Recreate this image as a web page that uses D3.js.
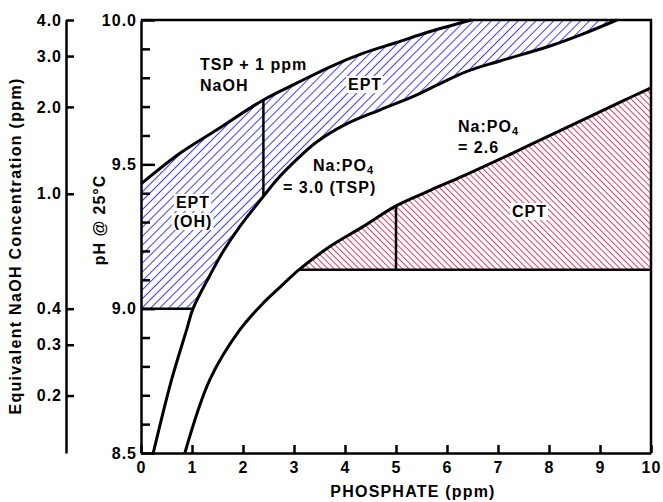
<!DOCTYPE html>
<html>
<head>
<meta charset="utf-8">
<script src="https://cdn.jsdelivr.net/npm/d3@7"></script>
<style>
  html, body { margin: 0; padding: 0; background: #fff; }
  svg { display: block; font-family: "Liberation Sans", Arial, Helvetica, sans-serif; font-weight: bold; }
</style>
</head>
<body>
<svg id="chart" width="663" height="502"></svg>
<script>
// Phosphate / pH control chart: curves of pH against phosphate concentration.

// Curve "TSP + 1 ppm NaOH"
const tspNaohX  = [0, 0.77, 1.48, 2.4, 3.05, 3.71, 4.36, 5.01, 5.67, 6.48];
const tspNaohPh = [9.432, 9.539, 9.619, 9.723, 9.781, 9.838, 9.885, 9.922, 9.960, 10.0];

// Curve Na:PO4 = 3.0 (TSP)
const tspX  = [0.24, 0.60, 0.90, 1.02, 1.35, 1.61, 1.94, 2.4, 2.66, 3.05, 3.45, 4.03, 4.69, 5.34, 5.73, 6.39, 7.04, 8.02, 8.67, 9.33];
const tspPh = [8.5, 8.754, 8.93, 9.0, 9.115, 9.198, 9.285, 9.389, 9.446, 9.516, 9.578, 9.640, 9.689, 9.735, 9.768, 9.822, 9.858, 9.910, 9.952, 10.0];

// Curve Na:PO4 = 2.6
const na26X  = [0.86, 1.35, 1.94, 2.4, 2.79, 3.1, 3.71, 4.36, 5.0, 5.67, 6.32, 7.3, 8.28, 9.45, 10.0];
const na26Ph = [8.5, 8.754, 8.927, 9.02, 9.085, 9.135, 9.216, 9.285, 9.356, 9.41, 9.46, 9.54, 9.622, 9.72, 9.765];

// Region limits
const eptFloorPh = 9.0;     // lower limit of the EPT (OH) zone
const cptFloorPh = 9.135;   // lower limit of the CPT zone
const eptSplitX = 2.4;      // divider inside the EPT zone
const cptSplitX = 5.0;      // divider inside the CPT zone

// Axis ticks
const phosphateTicks = [0, 1, 2, 3, 4, 5, 6, 7, 8, 9, 10];
const phTicks = [8.5, 9.0, 9.5, 10.0];
const phMinorTicks = [8.6, 8.7, 8.8, 8.9, 9.1, 9.2, 9.3, 9.4, 9.6, 9.7, 9.8, 9.9];
const naohTicks = [0.2, 0.3, 0.4, 1.0, 2.0, 3.0, 4.0];
const naohAtPh10 = 4.0;     // ppm NaOH equivalent to pH 10.0

const svg = d3.select("#chart");

const x = d3.scaleLinear().domain([0, 10]).range([141, 651]);
const y = d3.scaleLinear().domain([8.5, 10]).range([453, 20]);
const naoh = d3.scaleLog().domain([naohAtPh10 * Math.pow(10, -1.5), naohAtPh10]).range([453, 20]);

const zip = (xs, ys) => xs.map((v, i) => [v, ys[i]]);
const upperPts = zip(tspNaohX, tspNaohPh);
const tspPts = zip(tspX, tspPh);
const na26Pts = zip(na26X, na26Ph);

const line = d3.line()
  .x(d => x(d[0]))
  .y(d => y(d[1]))
  .curve(d3.curveCatmullRom.alpha(0.5));

// Hatch patterns
const defs = svg.append("defs");
function hatch(id, gap, angle, color) {
  const p = defs.append("pattern")
    .attr("id", id)
    .attr("patternUnits", "userSpaceOnUse")
    .attr("width", gap).attr("height", gap)
    .attr("patternTransform", `rotate(${angle})`);
  p.append("line")
    .attr("x1", gap / 2).attr("y1", -1)
    .attr("x2", gap / 2).attr("y2", gap + 1)
    .attr("stroke", color).attr("stroke-width", 1);
}
hatch("hatchBlue", 6.3, 45, "#3a3aff");
hatch("hatchRed", 4.4, -45, "#e03a5c");

// EPT zone: below TSP + 1 ppm NaOH, above TSP, above pH 9.0
const tspAbove = tspPts.filter(d => d[1] >= eptFloorPh);
const eptPath = `M${x(0)},${y(eptFloorPh)}` +
  line(upperPts).replace(/^M/, "L") +
  line(tspAbove.slice().reverse()).replace(/^M/, "L") + "Z";
svg.append("path").attr("d", eptPath).attr("fill", "url(#hatchBlue)");

// CPT zone: below Na:PO4 = 2.6, above the CPT floor
const cptPts = na26Pts.filter(d => d[0] >= 3.1);
const cptPath = line(cptPts) + `L${x(10)},${y(cptFloorPh)}Z`;
svg.append("path").attr("d", cptPath).attr("fill", "url(#hatchRed)");

// Curves
[upperPts, tspPts, na26Pts].forEach(pts => {
  svg.append("path")
    .attr("d", line(pts))
    .attr("fill", "none")
    .attr("stroke", "#000")
    .attr("stroke-width", 3)
    .attr("stroke-linejoin", "round");
});

// Zone boundaries and dividers
const segs = [
  [[0, eptFloorPh], [tspPts.find(d => d[1] === eptFloorPh)[0], eptFloorPh]],
  [[cptPts[0][0], cptFloorPh], [10, cptFloorPh]],
  [[eptSplitX, upperPts.find(d => d[0] === eptSplitX)[1]], [eptSplitX, tspPts.find(d => d[0] === eptSplitX)[1]]],
  [[cptSplitX, cptFloorPh], [cptSplitX, na26Pts.find(d => d[0] === cptSplitX)[1]]]
];
segs.forEach(([a, b]) => {
  svg.append("line")
    .attr("x1", x(a[0])).attr("y1", y(a[1]))
    .attr("x2", x(b[0])).attr("y2", y(b[1]))
    .attr("stroke", "#000").attr("stroke-width", 2.5);
});

// Frame (top and right)
svg.append("path")
  .attr("d", `M${x(0)},${y(10)}H${x(10)}V${y(8.5)}`)
  .attr("fill", "none").attr("stroke", "#000").attr("stroke-width", 2.5);

function styleAxis(g) {
  g.attr("font-family", null).attr("font-size", null);
  g.select(".domain").attr("stroke-width", 2.5);
  g.selectAll(".tick line").attr("stroke-width", 2.5);
  g.selectAll(".tick text")
    .attr("font-size", 16)
    .attr("letter-spacing", 1)
    .attr("fill", "#000");
}

// pH axis
svg.append("g")
  .attr("transform", `translate(${x(0)},0)`)
  .call(d3.axisLeft(y).tickValues(phMinorTicks).tickSizeInner(-9).tickSizeOuter(0).tickFormat(""))
  .call(g => { g.select(".domain").remove(); g.selectAll(".tick line").attr("stroke-width", 2.5); });
svg.append("g")
  .attr("transform", `translate(${x(0)},0)`)
  .call(d3.axisLeft(y).tickValues(phTicks).tickSizeInner(-14).tickSizeOuter(0).tickPadding(4).tickFormat(d3.format(".1f")))
  .call(styleAxis);

// Phosphate axis
svg.append("g")
  .attr("transform", `translate(0,${y(8.5)})`)
  .call(d3.axisBottom(x).tickValues(phosphateTicks).tickSizeInner(-8).tickSizeOuter(0).tickPadding(9).tickFormat(d3.format("d")))
  .call(styleAxis);

// Equivalent NaOH axis
svg.append("g")
  .attr("transform", "translate(66,0)")
  .call(d3.axisLeft(naoh).tickValues(naohTicks).tickSizeInner(-8).tickSizeOuter(0).tickPadding(4).tickFormat(d3.format(".1f")))
  .call(styleAxis);

// Axis titles
svg.append("text")
  .attr("x", 413).attr("y", 497)
  .attr("text-anchor", "middle")
  .attr("font-size", 16).attr("letter-spacing", 1.2)
  .text("PHOSPHATE (ppm)");
svg.append("text")
  .attr("transform", "translate(105,220) rotate(-90)")
  .attr("text-anchor", "middle")
  .attr("font-size", 16).attr("letter-spacing", 1)
  .text("pH @ 25°C");
svg.append("text")
  .attr("transform", "translate(21,246) rotate(-90)")
  .attr("text-anchor", "middle")
  .attr("font-size", 16).attr("letter-spacing", 1.3)
  .text("Equivalent NaOH Concentration (ppm)");

// Annotations
const notes = svg.append("g").attr("font-size", 16).attr("letter-spacing", 1);
function note(tx, ty, str, anchor, boxed) {
  const t = notes.append("text").attr("x", tx).attr("y", ty)
    .attr("text-anchor", anchor || "start").text(str);
  if (boxed) {
    const b = t.node().getBBox();
    notes.insert("rect", () => t.node())
      .attr("x", b.x - 2).attr("y", b.y)
      .attr("width", b.width + 3).attr("height", b.height)
      .attr("fill", "#fff");
  }
  return t;
}
function ratio(tx, ty) {
  const t = notes.append("text").attr("x", tx).attr("y", ty).text("Na:PO");
  t.append("tspan").attr("font-size", 11).attr("dy", 3).text("4");
}
note(200, 70, "TSP + 1 ppm");
note(200, 91, "NaOH");
note(348, 90, "EPT", "start", true);
note(193, 208, "EPT", "middle", true);
note(193, 227, "(OH)", "middle", true);
ratio(313, 171);
note(283, 193, "= 3.0 (TSP)");
ratio(458, 132);
note(458, 153, "= 2.6");
note(512, 217, "CPT", "start", true);
</script>
</body>
</html>
